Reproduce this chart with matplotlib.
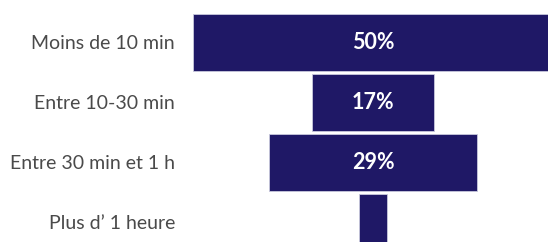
import matplotlib.pyplot as plt
import numpy as np

plt.rcParams['font.family'] = ['Lato', 'DejaVu Sans']

categories = ['Moins de 10 min', 'Entre 10-30 min', 'Entre 30 min et 1 h', 'Plus d\u2019 1 heure']
values = [50, 17, 29, 4]
value_labels = ['50%', '17%', '29%', '']

W, H = 548, 242
fig = plt.figure(figsize=(W / 100, H / 100), dpi=100)
# axes from x=186px to the right edge, full height
ax = fig.add_axes([186 / W, 0, 1 - 186 / W, 1])

color = '#1f1866'
y = np.arange(len(values))
vals = np.array(values, dtype=float)
ax.barh(y, vals, left=-vals / 2, height=0.95, color=color,
        edgecolor='#c8c8dc', linewidth=0.6)

for yi, lab in zip(y, value_labels):
    if lab:
        ax.text(0, yi, lab, ha='center', va='center', color='white',
                fontsize=15.5, fontweight='bold')

# center at 373px, 7.2px per %
px = 7.2
ax.set_xlim((186 - 373) / px, (548 - 373) / px)
ax.set_ylim((242 - 42.3) / 60, -42.3 / 60)

ax.set_yticks(y)
ax.set_yticklabels(categories, fontsize=14, color='#4a4a4a')
ax.tick_params(axis='y', length=0, pad=8)
ax.set_xticks([])
for s in ax.spines.values():
    s.set_visible(False)

plt.savefig('out.png', dpi=100)
